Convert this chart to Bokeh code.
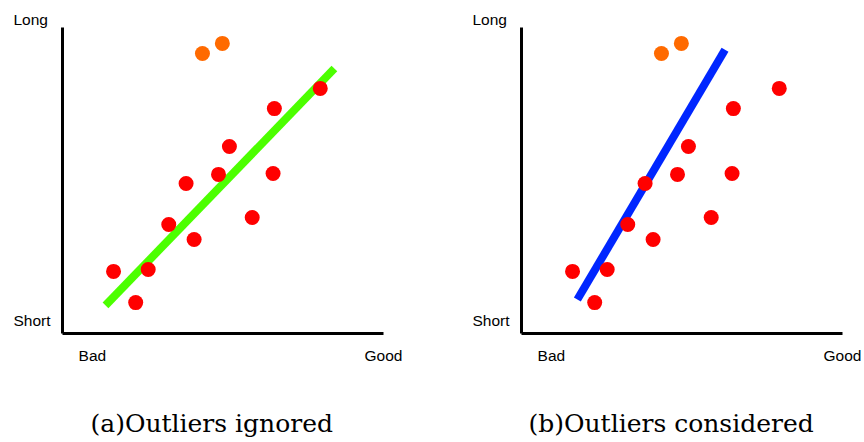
from bokeh.plotting import figure
from bokeh.layouts import row
from bokeh.models import Range1d, FixedTicker, Title, LinearAxis
from bokeh.embed import file_html
from bokeh.resources import INLINE

# ---- data (arbitrary 0..10 units: x = quality Bad->Good, y = duration Short->Long)
inlier_x = [1.59, 2.67, 2.28, 3.31, 4.10, 3.85, 4.86, 5.20, 5.91, 6.56, 6.60, 8.03]
inlier_y = [2.03, 2.09, 1.01, 3.56, 3.07, 4.90, 5.20, 6.11, 3.79, 5.23, 7.35, 8.01]
outlier_x = [4.36, 4.98]
outlier_y = [9.15, 9.48]
fit_ignored_x = [1.34, 8.47]
fit_ignored_y = [0.92, 8.66]
fit_considered_x = [1.74, 6.34]
fit_considered_y = [1.11, 9.27]
x_tick_pos = [0.93, 10]
x_tick_labels = ["Bad", "Good"]
y_tick_pos = [0.42]
y_tick_labels = ["Short"]
y_top_label = "Long"
captions = ["(a)Outliers ignored", "(b)Outliers considered"]

RED = "#ff0000"
ORANGE = "#ff6a00"
GREEN = "#4cff00"
BLUE = "#0026ff"
SANS = "Liberation Sans"
LABEL_SIZE = "15.5px"


def make_panel(left_border, right_border, fit_x, fit_y, fit_color, caption, caption_offset):
    p = figure(
        output_backend="svg", toolbar_location=None,
        x_range=Range1d(0, 10), y_range=Range1d(0, 10),
        frame_width=321, frame_height=306,
        min_border_left=left_border, min_border_right=right_border,
        min_border_top=27, min_border_bottom=109,
        background_fill_color="white", border_fill_color="white",
        outline_line_color=None, title=y_top_label,
    )
    p.grid.visible = False
    p.title.align = "left"
    p.title.offset = -49
    p.title.standoff = 0
    p.title.text_font = SANS
    p.title.text_font_size = LABEL_SIZE
    p.title.text_font_style = "normal"
    p.title.text_color = "black"

    for ax in (p.xaxis[0], p.yaxis[0]):
        ax.major_tick_line_color = None
        ax.minor_tick_line_color = None
        ax.major_tick_out = 0
        ax.major_tick_in = 0
        ax.minor_tick_out = 0
        ax.minor_tick_in = 0
        ax.major_label_text_font = SANS
        ax.major_label_text_font_size = LABEL_SIZE
        ax.major_label_text_color = "black"
        ax.axis_line_width = 3
        ax.axis_line_color = "black"
    p.xaxis[0].ticker = FixedTicker(ticks=x_tick_pos)
    p.xaxis[0].major_label_overrides = dict(zip(x_tick_pos, x_tick_labels))
    p.xaxis[0].major_label_standoff = 13
    p.yaxis[0].ticker = FixedTicker(ticks=y_tick_pos)
    p.yaxis[0].major_label_overrides = dict(zip(y_tick_pos, y_tick_labels))
    p.yaxis[0].major_label_standoff = 12

    # invisible spacer between the tick labels and the caption
    spacer = LinearAxis(ticker=FixedTicker(ticks=[5]), axis_line_color=None,
                        major_tick_line_color=None, minor_tick_line_color=None,
                        major_tick_out=38, major_tick_in=0,
                        minor_tick_out=0, minor_tick_in=0,
                        major_label_overrides={5: ""},
                        major_label_text_font_size="0px", major_label_standoff=0)
    p.add_layout(spacer, "below")

    p.add_layout(Title(text=caption, align="left", offset=caption_offset, standoff=4,
                       text_font="DejaVu Serif", text_font_size="25px",
                       text_font_style="normal", text_color="black"), "below")

    p.line(fit_x, fit_y, line_width=8, line_color=fit_color, line_cap="butt")
    p.scatter(inlier_x, inlier_y, size=15, fill_color=RED, line_color=None)
    p.scatter(outlier_x, outlier_y, size=15, fill_color=ORANGE, line_color=None)
    return p


p1 = make_panel(62, 49, fit_ignored_x, fit_ignored_y, GREEN, captions[0], 28)
p2 = make_panel(89, 22, fit_considered_x, fit_considered_y, BLUE, captions[1], 7)

layout = row(p1, p2, spacing=0)
open("out.html", "w").write(file_html(layout, INLINE))
